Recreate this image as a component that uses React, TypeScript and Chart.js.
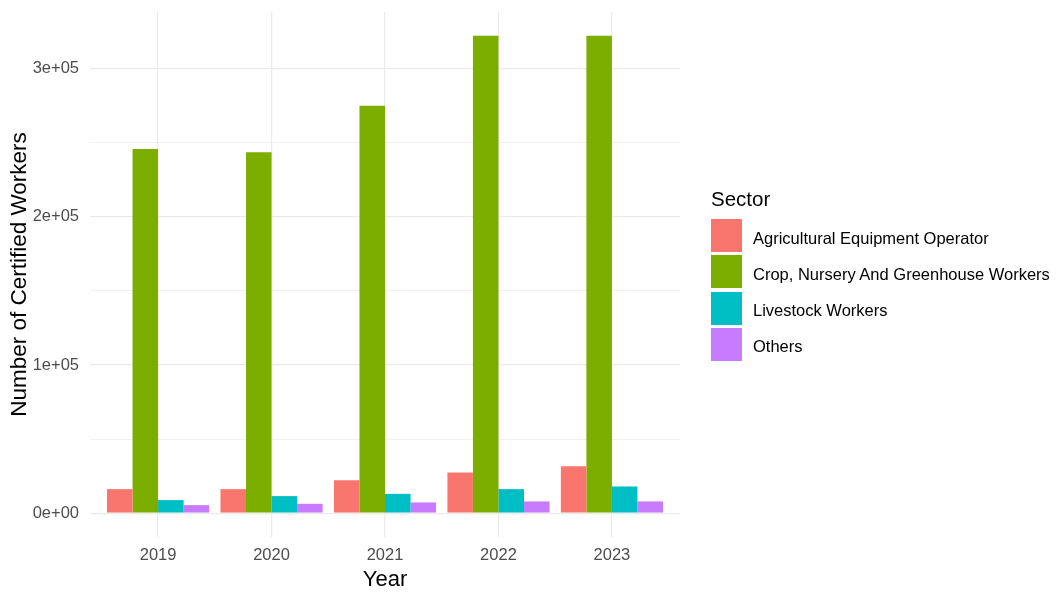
import React, { useEffect, useRef } from "react";
import { Chart, registerables } from "chart.js";

Chart.register(...registerables);

// ---- data ----
const years = [2019, 2020, 2021, 2022, 2023];
const sectorNames = [
  "Agricultural Equipment Operator",
  "Crop, Nursery And Greenhouse Workers",
  "Livestock Workers",
  "Others",
];
const agriculturalEquipmentOperator = [16200, 16200, 22200, 27400, 31700];
const cropNurseryGreenhouse = [245800, 243500, 274900, 322100, 322100];
const livestockWorkers = [8800, 11500, 13000, 16200, 18000];
const othersWorkers = [5400, 6300, 7200, 7900, 7900];
const sectorColors = ["#F8766D", "#7CAE00", "#00BFC4", "#C77CFF"];
const yTickValues = [0, 50000, 100000, 150000, 200000, 250000, 300000];
const yLabelStep = 100000;
const xAxisTitle = "Year";
const yAxisTitle = "Number of Certified Workers";
const legendTitle = "Sector";

const FONT = "'Liberation Sans', Arial, Helvetica, sans-serif";

function sci(v: number): string {
  if (v === 0) return "0e+00";
  const [m, e] = v.toExponential(0).split("e");
  const sign = e[0];
  const digits = e.slice(1).padStart(2, "0");
  return `${m}e${sign}${digits}`;
}

export default function App() {
  const canvasRef = useRef<HTMLCanvasElement | null>(null);

  useEffect(() => {
    const canvas = canvasRef.current;
    if (!canvas) return;
    const series = [
      agriculturalEquipmentOperator,
      cropNurseryGreenhouse,
      livestockWorkers,
      othersWorkers,
    ];
    const allVals = series.flat();
    const dataMax = Math.max(...allVals);
    const pad = dataMax * 0.05;

    const chart = new Chart(canvas, {
      type: "bar",
      data: {
        datasets: series.map((arr, k) => ({
          label: sectorNames[k],
          data: years.map((x, i) => ({ x, y: arr[i] })),
          backgroundColor: sectorColors[k],
          borderWidth: 0,
          categoryPercentage: 0.9,
          barPercentage: 1.0,
        })),
      },
      options: {
        responsive: false,
        animation: false,
        layout: { padding: { top: 12, right: 378, bottom: 0, left: 0 } },
        plugins: {
          legend: { display: false },
          tooltip: { enabled: false },
        },
        scales: {
          x: {
            type: "linear",
            min: years[0] - 0.6,
            max: years[years.length - 1] + 0.6,
            offset: false,
            grid: {
              offset: false,
              color: "#EBEBEB",
              lineWidth: 1.2,
              drawTicks: false,
            },
            border: { display: false },
            afterBuildTicks: (s: any) => {
              s.ticks = years.map((v) => ({ value: v }));
            },
            afterFit: (s: any) => {
              s.height = 56;
              s.paddingLeft = 0;
              s.paddingRight = 0;
            },
            ticks: {
              autoSkip: false,
              maxRotation: 0,
              padding: 9,
              color: "#4D4D4D",
              font: { family: FONT, size: 16.5 },
              callback: (v: any) => String(v),
            },
            title: {
              display: true,
              text: xAxisTitle,
              color: "#000000",
              font: { family: FONT, size: 22 },
              padding: { top: 0, bottom: 0 },
            },
          },
          y: {
            type: "linear",
            min: -pad,
            max: dataMax + pad,
            grid: {
              color: "#EBEBEB",
              lineWidth: (ctx: any) =>
                ctx.tick && ctx.tick.value % yLabelStep === 0 ? 1.2 : 0.7,
              drawTicks: false,
            },
            border: { display: false },
            afterBuildTicks: (s: any) => {
              s.ticks = yTickValues.map((v) => ({ value: v }));
            },
            afterFit: (s: any) => {
              s.width = 90;
              s.paddingTop = 0;
              s.paddingBottom = 0;
            },
            ticks: {
              autoSkip: false,
              padding: 11,
              color: "#4D4D4D",
              font: { family: FONT, size: 16.5 },
              callback: (v: any) =>
                Number(v) % yLabelStep === 0 ? sci(Number(v)) : "",
            },
            title: {
              display: true,
              text: yAxisTitle,
              color: "#000000",
              font: { family: FONT, size: 22.5 },
              padding: { top: 6, bottom: 0 },
            },
          },
        },
      } as any,
    });
    return () => chart.destroy();
  }, []);

  return (
    <div
      style={{
        position: "fixed",
        left: 0,
        top: 0,
        width: 1058,
        height: 593,
        background: "#ffffff",
        fontFamily: FONT,
      }}
    >
      <canvas
        ref={canvasRef}
        width={1058}
        height={593}
        style={{ position: "absolute", left: 0, top: 0, width: 1058, height: 593 }}
      />
      <div
        style={{
          position: "absolute",
          left: 711,
          top: 186,
          height: 26,
          lineHeight: "26px",
          fontSize: 20.5,
          color: "#000000",
          whiteSpace: "nowrap",
        }}
      >
        {legendTitle}
      </div>
      {sectorNames.map((name, i) => (
        <React.Fragment key={name}>
          <div
            style={{
              position: "absolute",
              left: 711,
              top: 219 + i * 36.3,
              width: 31,
              height: 33,
              background: sectorColors[i],
            }}
          />
          <div
            style={{
              position: "absolute",
              left: 753,
              top: 221.5 + i * 36.3,
              height: 33,
              lineHeight: "33px",
              fontSize: 16.5,
              color: "#000000",
              whiteSpace: "nowrap",
            }}
          >
            {name}
          </div>
        </React.Fragment>
      ))}
    </div>
  );
}
